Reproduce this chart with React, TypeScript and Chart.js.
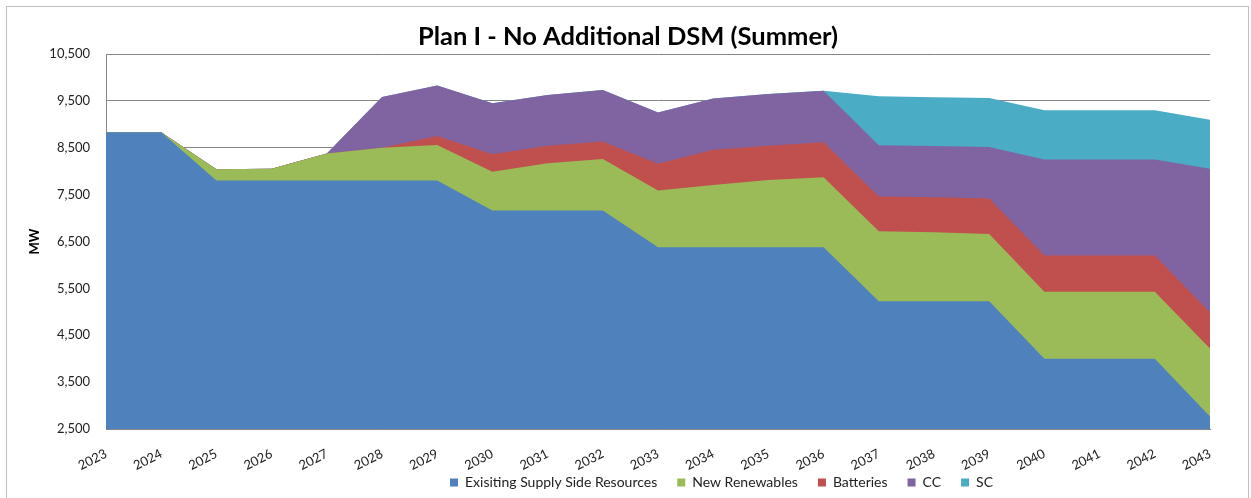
import React, { useEffect, useRef } from "react";
import { Chart, registerables } from "chart.js";

Chart.register(...registerables);

const years = ["2023","2024","2025","2026","2027","2028","2029","2030","2031","2032","2033","2034","2035","2036","2037","2038","2039","2040","2041","2042","2043"];
const existing = [8830, 8830, 7800, 7800, 7800, 7800, 7800, 7160, 7160, 7160, 6375, 6375, 6375, 6375, 5225, 5225, 5225, 4000, 4000, 4000, 2765];
const renewables = [0, 0, 240, 250, 575, 700, 760, 830, 1010, 1100, 1215, 1330, 1435, 1495, 1495, 1475, 1435, 1430, 1430, 1430, 1455];
const batteries = [0, 0, 0, 0, 0, 0, 190, 370, 375, 375, 570, 755, 735, 745, 740, 745, 760, 770, 770, 770, 770];
const cc = [0, 0, 0, 0, 0, 1085, 1080, 1090, 1080, 1095, 1090, 1090, 1100, 1100, 1095, 1095, 1095, 2050, 2050, 2050, 3060];
const sc = [0, 0, 0, 0, 0, 0, 0, 0, 0, 0, 0, 0, 0, 0, 1045, 1040, 1045, 1050, 1050, 1050, 1050];

const seriesNames = ["Exisiting Supply Side Resources", "New Renewables", "Batteries", "CC", "SC"];
const seriesColors = ["#4F81BD", "#9BBB59", "#C0504D", "#8064A2", "#4BACC6"];
const yTicks = [2500, 3500, 4500, 5500, 6500, 7500, 8500, 9500, 10500];

const FONT = "Lato, 'Open Sans', sans-serif";

export default function App() {
  const ref = useRef<HTMLCanvasElement | null>(null);
  useEffect(() => {
    if (!ref.current) return;
    const data = [existing, renewables, batteries, cc, sc];
    const framePlugin = {
      id: "frame",
      beforeDraw(chart: any) {
        const ctx = chart.ctx;
        ctx.save();
        ctx.fillStyle = "#fff";
        ctx.fillRect(0, 0, chart.width, chart.height);
        ctx.strokeStyle = "#BFBFBF";
        ctx.lineWidth = 1;
        ctx.strokeRect(6.5, 6.5, 1242, 600);
        ctx.restore();
      },
      afterLayout(chart: any) {
        const lg = chart.legend;
        if (lg) {
          const w = lg.right - lg.left;
          lg.left = 430;
          lg.right = 430 + w;
          lg.top = 455.6;
          lg.bottom = chart.height;
          lg.height = lg.bottom - lg.top;
        }
        const tb = chart.titleBlock;
        if (tb) {
          tb.left += 20;
          tb.right += 20;
        }
      },
    };
    const chart = new Chart(ref.current, {
      type: "line",
      data: {
        labels: years,
        datasets: data.map((d, i) => ({
          label: seriesNames[i],
          data: d,
          backgroundColor: seriesColors[i],
          borderColor: seriesColors[i],
          borderWidth: 0,
          pointRadius: 0,
          fill: "start",
          tension: 0,
        })),
      },
      options: {
        animation: false,
        responsive: false,
        events: [],
        layout: { padding: { left: 6, right: 41, top: 0, bottom: 0 } },
        plugins: {
          title: {
            display: true,
            text: "Plan I - No Additional DSM (Summer)",
            color: "#000",
            font: { family: FONT, size: 25.5, weight: "bold" },
            padding: { top: 21.7, bottom: 1.7 },
          },
          legend: {
            position: "bottom",
            align: "start",
            maxHeight: 24,
            labels: {
              boxWidth: 8,
              boxHeight: 8,
              padding: 20,
              color: "#222",
              font: { family: FONT, size: 14 },
            },
          },
          tooltip: { enabled: false },
        },
        scales: {
          x: {
            grid: { display: false, drawTicks: false },
            border: { display: true, color: "#868686", width: 1 },
            ticks: {
              autoSkip: false,
              maxRotation: 27,
              minRotation: 27,
              padding: 17,
              color: "#222",
              font: { family: FONT, size: 13 },
            },
            afterFit(scale: any) { scale.height = 45; },
          },
          y: {
            stacked: true,
            min: 2500,
            max: 10500,
            afterBuildTicks(scale: any) { scale.ticks = yTicks.map((v) => ({ value: v })); },
            grid: { color: "#868686", lineWidth: 1, drawTicks: false },
            border: { display: true, color: "#868686", width: 1 },
            ticks: {
              padding: 16,
              color: "#222",
              font: { family: FONT, size: 13 },
              callback: (v: any) => Number(v).toLocaleString("en-US"),
            },
            title: {
              display: true,
              text: "MW",
              color: "#000",
              font: { family: FONT, size: 13, weight: "bold" },
              padding: { top: 21, bottom: 0 },
            },
            afterFit(scale: any) { scale.width = 100; },
          },
        },
      },
      plugins: [framePlugin],
    } as any);
    return () => chart.destroy();
  }, []);
  return (
    <div style={{ position: "fixed", left: 0, top: 0, width: 1251, height: 498, background: "#fff" }}>
      <canvas ref={ref} width={1251} height={498} style={{ display: "block" }} />
    </div>
  );
}
